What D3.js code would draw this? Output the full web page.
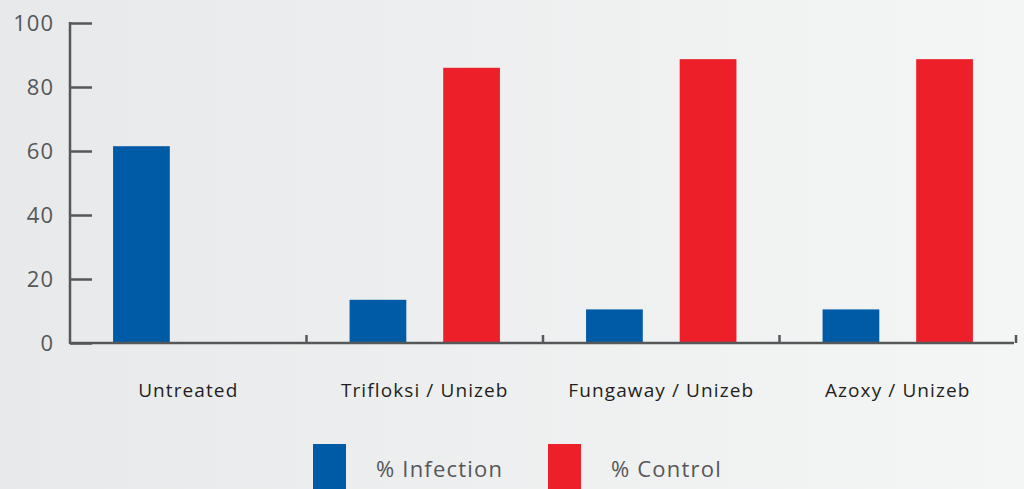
<!DOCTYPE html>
<html>
<head>
<meta charset="utf-8">
<script src="https://cdn.jsdelivr.net/npm/d3@7"></script>
<style>
  html, body { margin: 0; padding: 0; }
  body { width: 1024px; height: 489px; overflow: hidden; }
</style>
</head>
<body>
<div id="chart"></div>
<script>
// data
var categories = ["Untreated", "Trifloksi / Unizeb", "Fungaway / Unizeb", "Azoxy / Unizeb"];
var seriesNames = ["% Infection", "% Control"];
var infection = [61.5, 13.5, 10.5, 10.5];
var control = [null, 86, 88.7, 88.7];
var yTicks = [0, 20, 40, 60, 80, 100];
var colors = ["#005ba6", "#ed1f29"];

var W = 1024, H = 489;
var margin = { top: 23, right: 8, bottom: 146, left: 70 },
  width = W - margin.left - margin.right,
  height = H - margin.top - margin.bottom;

var svg = d3.select("#chart")
  .append("svg")
  .attr("width", W)
  .attr("height", H);

// background gradient, a bit darker on the left
var grad = svg.append("defs").append("linearGradient")
  .attr("id", "bg")
  .attr("x1", "0").attr("x2", "1").attr("y1", "0").attr("y2", "0");
grad.append("stop").attr("offset", "0").attr("stop-color", "#e8e9ea");
grad.append("stop").attr("offset", "1").attr("stop-color", "#f4f5f5");
svg.append("rect").attr("width", W).attr("height", H).attr("fill", "url(#bg)");

var g = svg.append("g")
  .attr("transform", "translate(" + margin.left + "," + margin.top + ")");

var x0 = d3.scaleBand()
  .domain(categories)
  .range([0, width])
  .padding(0);

var x1 = d3.scaleBand()
  .domain(seriesNames)
  .range([0, x0.bandwidth()])
  .paddingInner(0.394)
  .paddingOuter(0.46);

var y = d3.scaleLinear()
  .domain([0, 100])
  .range([height, 0]);

var rows = categories.map(function (c, i) {
  return { cat: c, vals: [infection[i], control[i]] };
});

// bars
var groups = g.selectAll(".grp")
  .data(rows)
  .enter()
  .append("g")
  .attr("transform", function (d) { return "translate(" + x0(d.cat) + ",0)"; });

groups.selectAll("rect")
  .data(function (d) {
    return d.vals.map(function (v, k) { return { s: seriesNames[k], v: v, k: k }; })
      .filter(function (e) { return e.v != null; });
  })
  .enter()
  .append("rect")
  .attr("x", function (d) { return x1(d.s); })
  .attr("y", function (d) { return y(d.v); })
  .attr("width", x1.bandwidth())
  .attr("height", function (d) { return y(0) - y(d.v) + 1; })
  .attr("fill", function (d) { return colors[d.k]; });

var axisColor = "#555759";
var font = "'Open Sans', sans-serif";

// y axis, ticks pointing inward
var yAxis = g.append("g")
  .call(d3.axisRight(y).tickValues(yTicks).tickSize(22).tickPadding(0).tickFormat(""));
yAxis.select(".domain").remove();
yAxis.selectAll(".tick line").attr("stroke", axisColor).attr("stroke-width", 2.5);
g.append("line")
  .attr("x1", 0).attr("x2", 0)
  .attr("y1", y(100) - 1).attr("y2", y(0) + 1)
  .attr("stroke", axisColor).attr("stroke-width", 2.5);

g.selectAll(".ylab")
  .data(yTicks)
  .enter()
  .append("text")
  .attr("x", -16)
  .attr("y", function (d) { return y(d); })
  .attr("dy", "0.36em")
  .attr("text-anchor", "end")
  .attr("fill", axisColor)
  .style("font-family", font)
  .style("font-size", "22px")
  .style("letter-spacing", "1px")
  .text(function (d) { return d; });

// x axis with small upward ticks at the group edges
g.append("line")
  .attr("x1", 0).attr("x2", width - 2)
  .attr("y1", y(0)).attr("y2", y(0))
  .attr("stroke", axisColor).attr("stroke-width", 2.5);
g.selectAll(".xtick")
  .data(categories)
  .enter()
  .append("line")
  .attr("x1", function (d) { return x0(d) + x0.bandwidth(); })
  .attr("x2", function (d) { return x0(d) + x0.bandwidth(); })
  .attr("y1", y(0))
  .attr("y2", y(0) - 8)
  .attr("stroke", axisColor).attr("stroke-width", 2.5);

g.selectAll(".xlab")
  .data(categories)
  .enter()
  .append("text")
  .attr("x", function (d) { return x0(d) + x0.bandwidth() / 2; })
  .attr("y", height + 54)
  .attr("text-anchor", "middle")
  .attr("fill", "#231f20")
  .style("font-family", font)
  .style("font-size", "19px")
  .style("letter-spacing", "1.1px")
  .text(function (d) { return d; });

// legend
var legend = svg.append("g");
var legX = [313, 548];
seriesNames.forEach(function (s, k) {
  legend.append("rect")
    .attr("x", legX[k]).attr("y", 444)
    .attr("width", 33).attr("height", 50)
    .attr("fill", colors[k]);
  legend.append("text")
    .attr("x", legX[k] + 63).attr("y", 477)
    .attr("fill", axisColor)
    .style("font-family", font)
    .style("font-size", "22px")
    .style("letter-spacing", "1.2px")
    .text(s);
});
</script>
</body>
</html>
